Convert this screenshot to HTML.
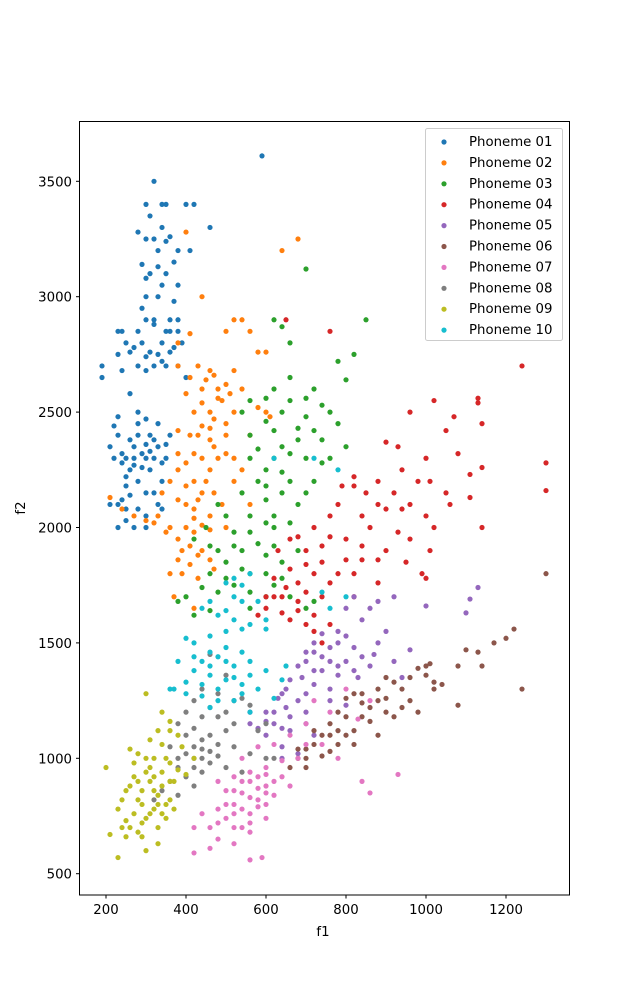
<!DOCTYPE html>
<html><head><meta charset="utf-8"><style>
body{margin:0;background:#fff}
svg{display:block;font-family:"DejaVu Sans","Liberation Sans",sans-serif}
</style></head><body>
<svg id="chart" width="632" height="1006" viewBox="0 0 632 1006" xmlns="http://www.w3.org/2000/svg">
<rect width="632" height="1006" fill="#fff"/>
<g id="marks"></g>
<rect x="79.5" y="121.5" width="490" height="773.5" fill="none" stroke="#000" stroke-width="1"/>
<g id="xticks"></g>
<g id="yticks"></g>
<text x="323" y="936" font-size="13.3" text-anchor="middle">f1</text>
<text x="25" y="508" font-size="13.3" text-anchor="middle" transform="rotate(-90 25 508)">f2</text>
<g id="legend"></g>
</svg>
<script>
const seriesNames=["Phoneme 01","Phoneme 02","Phoneme 03","Phoneme 04","Phoneme 05","Phoneme 06","Phoneme 07","Phoneme 08","Phoneme 09","Phoneme 10"];
const colors=["#1f77b4","#ff7f0e","#2ca02c","#d62728","#9467bd","#8c564b","#e377c2","#7f7f7f","#bcbd22","#17becf"];
const xTicks=[200,400,600,800,1000,1200];
const yTicks=[500,1000,1500,2000,2500,3000,3500];
const p01=[[590,3610],[320,3500],[300,3400],[340,3400],[350,3400],[400,3400],[420,3400],[310,3350],[340,3300],[460,3300],[280,3280],[360,3260],[300,3250],[320,3250],[350,3240],[380,3200],[410,3200],[330,3200],[290,3140],[330,3130],[350,3100],[310,3100],[300,3080],[380,3050],[330,3000],[290,2950],[370,2980],[380,2900],[300,2900],[320,2900],[230,2850],[240,2850],[280,2850],[350,2850],[380,2850],[390,2800],[250,2800],[270,2780],[310,2760],[330,2750],[360,2760],[300,2740],[340,2720],[280,2700],[190,2700],[190,2650],[240,2680],[380,2700],[400,2650],[260,2580],[230,2480],[300,2470],[330,2450],[280,2450],[310,2400],[230,2400],[260,2380],[300,2360],[330,2350],[350,2300],[300,2300],[270,2300],[250,2300],[240,2280],[310,2250],[260,2250],[280,2200],[250,2180],[230,2100],[210,2100],[250,2080],[280,2080],[300,2050],[230,2000],[270,2000],[330,2100],[340,2200],[360,2400],[300,2150],[210,2350],
[320,2880],[360,2900],[340,2800],[290,2800],[260,2760],[230,2750],[320,2700],[350,2700],[300,2680],[370,2780],[220,2300],[240,2320],[290,2320],[320,2300],[340,2280],[270,2270],[290,2260],[310,2330],[250,2220],[270,2350],[320,2380],[220,2440],[280,2400],[350,2360],[260,2140],[240,2120],[320,2150],[340,2080],[300,2000],[250,2030],[280,2500],[370,3150],[300,3000],[340,3050],[360,2850]];
const p02=[[680,3250],[640,3200],[400,3280],[440,3000],[410,2840],[520,2900],[540,2900],[500,2850],[560,2850],[580,2760],[600,2760],[380,2800],[380,2700],[410,2650],[430,2700],[460,2680],[470,2660],[500,2620],[520,2680],[440,2600],[480,2560],[540,2600],[580,2520],[600,2500],[420,2500],[460,2500],[500,2450],[380,2420],[430,2400],[460,2380],[480,2300],[440,2300],[400,2280],[380,2250],[420,2200],[460,2250],[520,2300],[360,2200],[340,2150],[400,2100],[420,2080],[460,2050],[400,2000],[380,1950],[360,2000],[320,2020],[300,2030],[270,2050],[240,2080],[210,2130],[330,2050],[350,1980],[410,1920],[440,1900],[460,1860],[390,1800],[370,1700],[430,1780],[420,1650],[360,1800],[500,2000],[560,2100],[520,2200],[470,2150],[500,2400],[560,2400],[610,2480],[490,2550],
[450,2640],[480,2600],[510,2580],[440,2540],[470,2470],[440,2440],[410,2400],[470,2350],[500,2320],[420,2320],[380,2320],[400,2180],[440,2150],[430,2120],[380,2120],[420,2040],[440,2010],[460,1990],[420,1980],[390,1900],[430,1880],[470,1820],[410,1840],[380,1860],[450,2200],[490,2100],[540,2250],[460,2430],[520,2500],[400,2580]];
const p03=[[700,3120],[620,2900],[640,2870],[850,2900],[660,2800],[780,2720],[820,2750],[800,2640],[620,2600],[720,2600],[560,2550],[600,2560],[660,2550],[740,2530],[760,2500],[700,2480],[680,2430],[620,2420],[560,2400],[640,2350],[700,2300],[740,2280],[760,2300],[800,2350],[600,2250],[580,2200],[660,2200],[720,2200],[540,2150],[600,2120],[680,2100],[500,2050],[520,1980],[560,1980],[620,2000],[450,2000],[420,1950],[480,1900],[540,1900],[600,1880],[640,1850],[680,1900],[500,1850],[460,1800],[520,1750],[560,1720],[620,1750],[660,1700],[400,1700],[380,1680],[420,1620],[460,1640],[700,1650],[720,1680],[560,1800],[620,2050],[480,2100],[540,2500],[580,2340],
[660,2650],[700,2560],[640,2500],[600,2460],[680,2380],[720,2420],[620,2300],[660,2320],[560,2300],[600,2180],[640,2150],[700,2150],[560,2050],[600,2020],[660,2020],[580,1930],[620,1920],[540,1820],[600,1800],[640,1780],[500,1780],[480,1720],[440,1740],[560,1650],[600,1700],[520,1920],[460,1920],[640,2240],[740,2380],[780,2450]];
const p04=[[1240,2700],[760,2850],[650,2900],[1130,2560],[1130,2540],[1020,2550],[1070,2480],[960,2500],[1140,2450],[1050,2420],[900,2370],[930,2350],[1000,2300],[1080,2320],[1110,2230],[1140,2260],[1300,2280],[1300,2160],[940,2250],[980,2200],[1010,2200],[1050,2150],[820,2220],[790,2180],[850,2150],[880,2100],[900,2080],[960,2100],[1000,2050],[1020,2000],[1140,2000],[1110,2130],[840,2050],[860,2000],[930,1980],[1010,1900],[760,2050],[720,2000],[680,1960],[660,1950],[630,1900],[700,1900],[740,1850],[800,1860],[820,1800],[880,1860],[950,1850],[990,1800],[1000,1780],[880,1760],[780,1800],[720,1800],[680,1760],[650,1740],[620,1700],[600,1650],[640,1630],[660,1600],[700,1580],[720,1550],[740,1500],[580,1620],[740,1700],[680,1680],
[820,2180],[880,2200],[920,2150],[940,2080],[780,2100],[760,1960],[800,1950],[840,1920],[900,1900],[700,1840],[660,1820],[620,1780],[640,1700],[700,1720],[760,1760],[680,1640],[720,1620],[760,1580],[600,1700],[840,1860],[960,1950],[1060,2100],[820,1700],[740,1920]];
const p05=[[1130,1740],[1110,1690],[1000,1660],[920,1700],[880,1680],[820,1700],[860,1650],[800,1650],[840,1600],[900,1550],[780,1550],[720,1500],[760,1480],[820,1480],[870,1450],[920,1420],[700,1460],[740,1440],[800,1420],[860,1400],[680,1400],[720,1380],[780,1360],[830,1350],[650,1300],[720,1320],[760,1300],[630,1260],[600,1200],[650,1220],[700,1200],[760,1250],[800,1230],[560,1150],[620,1150],[660,1120],[720,1100],[600,1100],[640,1050],[680,1020],[640,1000],[1100,1630],[940,1350],[560,1200],
[740,1540],[780,1500],[720,1460],[760,1420],[700,1420],[780,1400],[740,1380],[690,1350],[660,1340],[700,1280],[640,1280],[680,1250],[620,1200],[660,1180],[600,1160],[580,1130],[640,1130],[700,1150],[820,1380],[880,1500],[800,1530],[840,1440],[960,1470]];
const p06=[[1300,1800],[1170,1500],[1200,1520],[1220,1560],[1140,1400],[1130,1460],[1100,1470],[1080,1400],[1240,1300],[1080,1230],[1010,1410],[980,1390],[1000,1360],[960,1350],[920,1330],[900,1350],[880,1300],[940,1300],[1020,1300],[1020,1330],[880,1250],[840,1280],[800,1260],[860,1220],[920,1180],[980,1200],[840,1180],[780,1200],[760,1150],[820,1120],[880,1100],[740,1100],[780,1060],[720,1060],[700,1040],[760,1030],[680,1000],[660,960],[700,960],[820,1060],[940,1220],
[800,1180],[840,1240],[780,1120],[760,1100],[720,1120],[740,1010],[800,1100],[860,1160],[900,1260],[960,1250],[1000,1400],[1040,1320],[700,1000],[680,1040],[820,1280],[900,1200]];
const p07=[[800,1300],[860,1250],[830,1170],[720,1250],[760,1200],[700,1150],[660,1100],[620,1060],[580,1050],[540,1000],[740,1060],[780,1000],[640,990],[600,960],[560,940],[520,920],[480,900],[620,900],[660,880],[580,870],[540,850],[500,860],[580,820],[600,800],[520,800],[480,780],[560,760],[500,740],[440,760],[460,700],[520,700],[560,680],[420,700],[480,650],[520,630],[460,610],[420,590],[560,560],[590,570],[860,850],[930,930],[840,900],[600,740],
[560,900],[600,880],[540,900],[580,920],[520,860],[560,830],[600,850],[620,840],[540,780],[580,790],[500,800],[520,760],[560,720],[600,930],[640,920],[680,1000],[700,1060],[540,700],[480,720]];
const p08=[[460,1450],[500,1360],[440,1300],[480,1280],[520,1250],[560,1230],[420,1250],[400,1200],[440,1180],[480,1180],[520,1150],[580,1120],[600,1150],[380,1150],[400,1100],[440,1080],[480,1060],[520,1050],[560,1020],[600,1000],[360,1050],[380,1000],[420,1000],[460,980],[500,960],[540,940],[440,940],[400,920],[360,900],[340,860],[320,820],[380,840],[420,880],[620,1000],
[440,1040],[460,1030],[420,1050],[400,1020],[460,1100],[500,1120],[420,1130],[460,1220],[500,1200],[540,1260],[440,1000],[480,1010],[420,960],[380,960]];
const p09=[[300,1280],[340,1200],[360,1160],[330,1120],[380,1100],[310,1080],[260,1040],[300,1000],[350,1000],[390,1050],[270,980],[310,960],[340,940],[380,950],[270,920],[310,900],[340,880],[250,860],[290,860],[330,840],[360,820],[290,800],[330,800],[370,780],[230,780],[270,760],[310,760],[350,740],[250,730],[290,720],[330,700],[240,700],[210,670],[250,660],[290,660],[330,630],[300,600],[230,570],[200,960],[400,930],[420,1000],[240,820],[370,900],
[320,920],[360,900],[300,940],[280,900],[320,860],[280,820],[320,780],[350,800],[300,740],[260,700],[280,680],[340,760],[360,980],[320,1000],[280,1020],[340,1060],[360,1120],[260,880]];
const p10=[[620,2300],[720,2300],[780,2250],[740,1720],[800,1700],[760,1650],[560,1800],[540,1750],[500,1760],[520,1700],[580,1680],[460,1680],[440,1650],[480,1620],[520,1600],[560,1580],[600,1560],[500,1550],[460,1530],[420,1500],[400,1520],[380,1420],[440,1420],[480,1440],[520,1400],[560,1420],[600,1380],[640,1340],[420,1380],[460,1360],[500,1340],[540,1320],[580,1300],[620,1260],[360,1300],[400,1280],[440,1270],[480,1250],[520,1250],[560,1200],[460,1220],[650,1400],[600,1600],[420,1440],[370,1300],
[520,1780],[540,1680],[500,1640],[540,1560],[500,1480],[540,1460],[460,1460],[520,1350],[560,1360],[480,1300],[440,1320],[400,1330],[540,1280],[460,1400],[500,1420]];
const series=[p01,p02,p03,p04,p05,p06,p07,p08,p09,p10];
const NS="http://www.w3.org/2000/svg";
function xs(v){return 26+0.4*v;}
function ys(v){return 181.3+(3500-v)*(115.4/500);}
const marks=document.getElementById('marks');
series.forEach((pts,si)=>{
  const g=document.createElementNS(NS,'g');
  
  
  pts.forEach(p=>{
    const c=document.createElementNS(NS,'circle');
    c.setAttribute('cx',xs(p[0]));c.setAttribute('cy',ys(p[1]));c.setAttribute('r',2.6);
    c.setAttribute('fill',colors[si]);
    
    
    g.appendChild(c);
  });
  marks.appendChild(g);
});
const xg=document.getElementById('xticks');
xTicks.forEach(t=>{
  const x=xs(t);
  const l=document.createElementNS(NS,'line');
  l.setAttribute('x1',x);l.setAttribute('x2',x);l.setAttribute('y1',895);l.setAttribute('y2',898.5);l.setAttribute('stroke','#000');
  
  
  xg.appendChild(l);
  const tx=document.createElementNS(NS,'text');
  tx.setAttribute('x',x);tx.setAttribute('y',914);tx.setAttribute('font-size','13.3');tx.setAttribute('text-anchor','middle');
  tx.textContent=t;
  
  
  xg.appendChild(tx);
});
const yg=document.getElementById('yticks');
yTicks.forEach(t=>{
  const y=ys(t);
  const l=document.createElementNS(NS,'line');
  l.setAttribute('x1',76);l.setAttribute('x2',79.5);l.setAttribute('y1',y);l.setAttribute('y2',y);l.setAttribute('stroke','#000');
  
  
  yg.appendChild(l);
  const tx=document.createElementNS(NS,'text');
  tx.setAttribute('x',72);tx.setAttribute('y',y+5);tx.setAttribute('font-size','13.3');tx.setAttribute('text-anchor','end');
  tx.textContent=t;
  
  
  yg.appendChild(tx);
});
const lg=document.getElementById('legend');
const box=document.createElementNS(NS,'rect');
box.setAttribute('x',425.5);box.setAttribute('y',128.5);box.setAttribute('width',137);box.setAttribute('height',212);box.setAttribute('rx',2);
box.setAttribute('fill','#fff');box.setAttribute('fill-opacity','0.8');box.setAttribute('stroke','#ccc');


lg.appendChild(box);
seriesNames.forEach((n,i)=>{
  const y=141+i*20.9;
  const c=document.createElementNS(NS,'circle');
  c.setAttribute('cx',444);c.setAttribute('cy',y+1);c.setAttribute('r',2.6);c.setAttribute('fill',colors[i]);
  
  
  lg.appendChild(c);
  const t=document.createElementNS(NS,'text');
  t.setAttribute('x',469);t.setAttribute('y',y+5);t.setAttribute('font-size','13.3');
  t.textContent=n;
  
  
  lg.appendChild(t);
});
</script>
</body></html>
